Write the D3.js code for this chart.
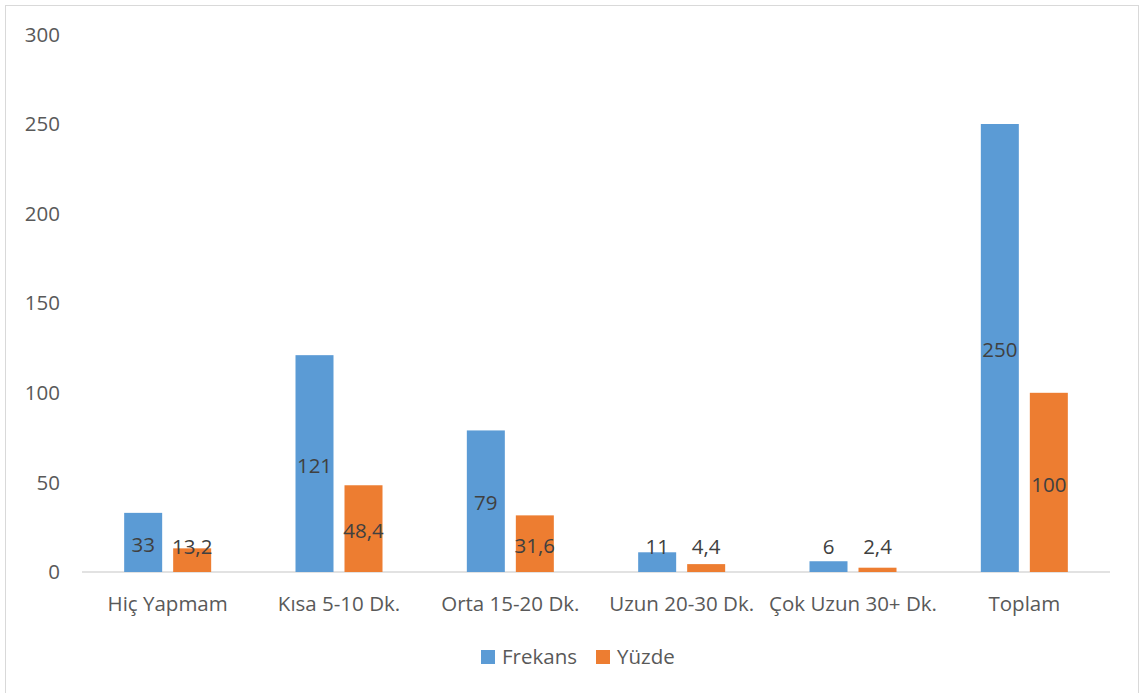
<!DOCTYPE html>
<html>
<head>
<meta charset="utf-8">
<script src="https://cdn.jsdelivr.net/npm/d3@7"></script>
<style>
  html, body { margin: 0; padding: 0; background: #fff; }
  svg text { font-family: "Open Sans", Lato, "Liberation Sans", sans-serif; }
</style>
</head>
<body>
<svg id="chart" width="1140" height="693"></svg>
<script>
// Category labels along the x axis
const categories = ["Hiç Yapmam", "Kısa 5-10 Dk.", "Orta 15-20 Dk.", "Uzun 20-30 Dk.", "Çok Uzun 30+ Dk.", "Toplam"];
// Series values
const frekans = [33, 121, 79, 11, 6, 250];
const yuzde = [13.2, 48.4, 31.6, 4.4, 2.4, 100];
const seriesNames = ["Frekans", "Yüzde"];
const seriesColors = ["#5b9bd5", "#ed7d31"];
// Value axis ticks
const yTicks = [0, 50, 100, 150, 200, 250, 300];

const svg = d3.select("#chart");

// outer chart frame
svg.append("rect")
  .attr("x", 5.5).attr("y", 5.5)
  .attr("width", 1133).attr("height", 690)
  .attr("fill", "#fff").attr("stroke", "#d9d9d9").attr("stroke-width", 1);

const plot = { left: 82, right: 1110, top: 34, bottom: 572 };

const x = d3.scaleBand().domain(categories).range([plot.left, plot.right]);
const y = d3.scaleLinear().domain([0, 300]).range([plot.bottom, plot.top + 0.4]);

const barW = 38, gap = 11;
const groupW = barW * 2 + gap;
const fontSize = 20.5;

// y-axis tick labels
svg.append("g").selectAll("text").data(yTicks).join("text")
  .attr("x", 60).attr("y", d => y(d))
  .attr("dy", "0.35em")
  .attr("text-anchor", "end")
  .attr("font-size", fontSize).attr("fill", "#595959")
  .text(d => d);

// baseline
svg.append("line")
  .attr("x1", plot.left).attr("x2", plot.right)
  .attr("y1", y(0)).attr("y2", y(0))
  .attr("stroke", "#d9d9d9").attr("stroke-width", 1.5);

const series = [frekans, yuzde];
const fmt = v => String(v).replace(".", ",");

series.forEach((vals, si) => {
  const g = svg.append("g");
  const bx = c => x(c) + (x.bandwidth() - groupW) / 2 + si * (barW + gap);
  g.selectAll("rect").data(categories).join("rect")
    .attr("x", c => bx(c))
    .attr("y", (c, i) => y(vals[i]))
    .attr("width", barW)
    .attr("height", (c, i) => y(0) - y(vals[i]))
    .attr("fill", seriesColors[si]);
  g.selectAll("text").data(categories).join("text")
    .attr("x", c => bx(c) + barW / 2)
    .attr("y", (c, i) => Math.min(y(vals[i] / 2) + 2, y(0) - 25))
    .attr("dy", "0.35em")
    .attr("text-anchor", "middle")
    .attr("font-size", fontSize).attr("fill", "#404040")
    .text((c, i) => fmt(vals[i]));
});

// category labels
svg.append("g").selectAll("text").data(categories).join("text")
  .attr("x", c => x(c) + x.bandwidth() / 2)
  .attr("y", 604).attr("dy", "0.35em")
  .attr("text-anchor", "middle")
  .attr("font-size", fontSize).attr("fill", "#595959")
  .text(c => c);

// legend
const legendX = [481, 596];
const legend = svg.append("g");
seriesNames.forEach((name, i) => {
  legend.append("rect")
    .attr("x", legendX[i]).attr("y", 650)
    .attr("width", 14).attr("height", 14)
    .attr("fill", seriesColors[i]);
  legend.append("text")
    .attr("x", legendX[i] + 21).attr("y", 657).attr("dy", "0.35em")
    .attr("font-size", fontSize).attr("fill", "#595959")
    .text(name);
});
</script>
</body>
</html>
